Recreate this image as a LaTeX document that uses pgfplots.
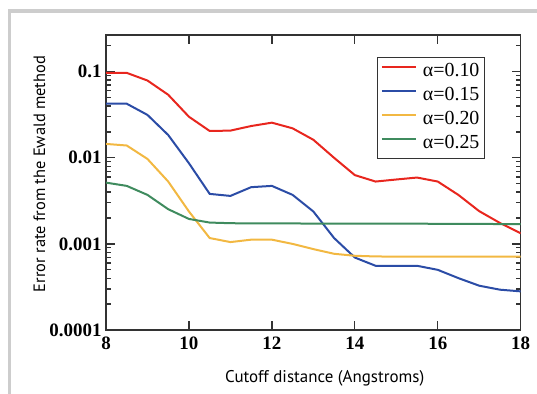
\documentclass[border=0pt]{standalone}
\usepackage{fontspec}
\setmainfont{Liberation Serif}
\newfontfamily\labelfont{PT Sans}
\usepackage{pgfplots}
\pgfplotsset{compat=1.18}
\definecolor{cred}{HTML}{E8261E}
\definecolor{cblue}{HTML}{2B4CA6}
\definecolor{cyel}{HTML}{F2B842}
\definecolor{cgreen}{HTML}{3F8B5E}
\definecolor{axc}{HTML}{333333}
\definecolor{framec}{HTML}{CDCDCD}
\begin{document}
\begin{tikzpicture}
\useasboundingbox (0,0) rectangle (537bp,394bp);
\draw[framec, line width=3.8bp] (9.5bp,-2bp) -- (9.5bp,383bp) -- (540bp,383bp);
\begin{axis}[
  at={(106bp,64bp)}, anchor=south west,
  scale only axis, width=414.7bp, height=295bp,
  ymode=log, xmin=8, xmax=18, ymin=0.0001, ymax=0.267,
  xtick={8,10,12,14,16,18},
  ytick={0.0001,0.001,0.01,0.1},
  yticklabels={0.0001,0.001,0.01,0.1},
  minor ytick={0.0002,0.0003,0.0004,0.0005,0.0006,0.0007,0.0008,0.0009,
    0.002,0.003,0.004,0.005,0.006,0.007,0.008,0.009,
    0.02,0.03,0.04,0.05,0.06,0.07,0.08,0.09,0.2},
  /pgf/number format/assume math mode=true,
  tick label style={font=\fontsize{19}{21}\selectfont\bfseries, text=black},
  xticklabel style={yshift=-3bp},
  yticklabel style={xshift=-1bp},
  axis line style={axc, line width=1.4bp},
  every tick/.style={axc, line width=1.3bp},
  major tick length=9bp, minor tick length=5bp,
  tick align=inside,
  legend style={at={(0.914,0.926)}, anchor=north east, draw=axc, line width=1.2bp,
    font=\fontsize{20}{22}\selectfont, inner sep=3bp, row sep=1bp,
    nodes={inner sep=2bp, text height=14bp, text depth=5bp},
    /tikz/every odd column/.append style={column sep=4bp}},
  legend cell align=left,
  legend image code/.code={\draw[#1, line width=2bp] (0bp,5bp) -- (34bp,5bp);},
  clip=true,
]
\addplot[cred, line width=2bp] coordinates {
(8,0.097)(8.5,0.097)(9,0.079)(9.5,0.054)(10,0.030)(10.5,0.0205)(11,0.0207)
(11.5,0.0234)(12,0.0256)(12.5,0.022)(13,0.0162)(13.5,0.0100)(14,0.0063)
(14.5,0.0053)(15,0.0056)(15.5,0.0059)(16,0.0053)(16.5,0.0037)(17,0.0024)
(17.5,0.00175)(18,0.00133)};
\addlegendentry{α=0.10}
\addplot[cblue, line width=2bp] coordinates {
(8,0.0425)(8.5,0.0425)(9,0.0315)(9.5,0.0184)(10,0.00865)(10.5,0.00381)(11,0.00361)
(11.5,0.00456)(12,0.00472)(12.5,0.00371)(13,0.00238)(13.5,0.00117)(14,0.000695)
(14.5,0.000557)(15,0.000557)(15.5,0.000557)(16,0.0005)(16.5,0.0004)(17,0.000327)
(17.5,0.000294)(18,0.000281)};
\addlegendentry{α=0.15}
\addplot[cyel, line width=2bp] coordinates {
(8,0.0145)(8.5,0.0139)(9,0.0097)(9.5,0.0053)(10,0.00238)(10.5,0.00117)(11,0.00105)
(11.5,0.00112)(12,0.00112)(12.5,0.0010)(13,0.00087)(13.5,0.000768)(14,0.000728)
(14.5,0.000715)(15,0.000712)(15.5,0.000712)(16,0.000712)(16.5,0.00071)(17,0.00071)
(17.5,0.00071)(18,0.00071)};
\addlegendentry{α=0.20}
\addplot[cgreen, line width=2bp] coordinates {
(8,0.00515)(8.5,0.00472)(9,0.00371)(9.5,0.00253)(10,0.00195)(10.5,0.00177)(11,0.00174)
(11.5,0.00173)(12,0.00173)(12.5,0.00173)(13,0.00172)(13.5,0.00172)(14,0.00172)
(14.5,0.00172)(15,0.00172)(15.5,0.00172)(16,0.00171)(16.5,0.00171)(17,0.00171)
(17.5,0.0017)(18,0.0017)};
\addlegendentry{α=0.25}
\end{axis}
\node[font=\labelfont\fontsize{17}{19}\selectfont, anchor=base] at (324.7bp,12bp) {Cutoff distance (Angstroms)};
\node[font=\labelfont\fontsize{16.5}{19}\selectfont, rotate=90, anchor=base] at (45bp,220bp) {Error rate from the Ewald method};
\end{tikzpicture}
\end{document}
